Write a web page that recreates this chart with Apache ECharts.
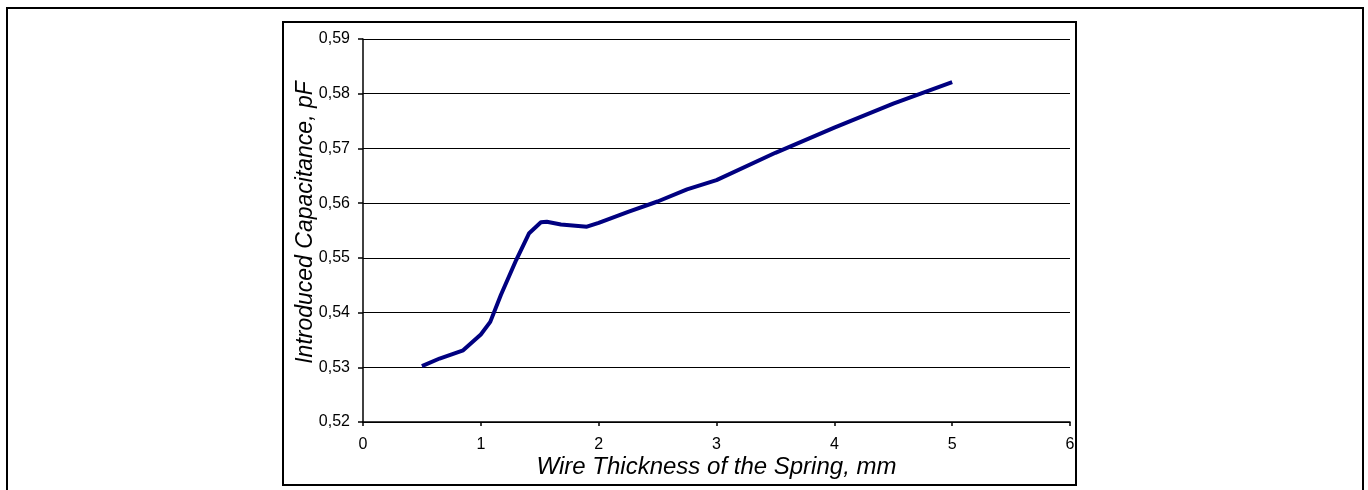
<!DOCTYPE html>
<html>
<head>
<meta charset="utf-8">
<script src="https://cdn.jsdelivr.net/npm/echarts@6/dist/echarts.min.js"></script>
<style>
  html, body { margin: 0; padding: 0; background: #fff; }
  #chart { width: 1368px; height: 490px; }
</style>
</head>
<body>
<div id="chart"></div>
<script>
// Wire thickness of the spring (mm) and the capacitance it introduces (pF)
const thickness = [0.5, 0.65, 0.85, 1.0, 1.08, 1.17, 1.3, 1.41, 1.51, 1.56, 1.68, 1.9, 2.0, 2.25, 2.5, 2.75, 3.0, 3.5, 4.0, 4.5, 5.0];
const capacitance = [0.5302, 0.5316, 0.5331, 0.5360, 0.5383, 0.5432, 0.5496, 0.5545, 0.5565, 0.5566, 0.5561, 0.5557, 0.5564, 0.5584, 0.5603, 0.5625, 0.5642, 0.5692, 0.5738, 0.5782, 0.5821];

const xTicks = [0, 1, 2, 3, 4, 5, 6];
const yTicks = [0.52, 0.53, 0.54, 0.55, 0.56, 0.57, 0.58, 0.59];

const xTitle = 'Wire Thickness of the Spring, mm';
const yTitle = 'Introduced Capacitance, pF';

const FONT = '"Liberation Sans", Arial, sans-serif';

const chart = echarts.init(document.getElementById('chart'), null, { renderer: 'canvas' });

chart.setOption({
  backgroundColor: '#ffffff',
  animation: false,
  graphic: [
    { type: 'rect', z: -1, shape: { x: 7, y: 8, width: 1356, height: 500 },
      style: { fill: 'none', stroke: '#000', lineWidth: 2 } },
    { type: 'rect', z: -1, shape: { x: 283, y: 22, width: 793, height: 463 },
      style: { fill: 'none', stroke: '#000', lineWidth: 2 } }
  ],
  grid: { left: 363, right: 298, top: 39, bottom: 68, containLabel: false },
  xAxis: {
    type: 'value',
    min: xTicks[0],
    max: xTicks[xTicks.length - 1],
    interval: 1,
    name: xTitle,
    nameLocation: 'middle',
    nameGap: 33,
    nameMoveOverlap: false,
    nameTextStyle: { fontFamily: FONT, fontSize: 24, fontStyle: 'italic', color: '#000' },
    axisLine: { show: true, lineStyle: { color: '#000', width: 1.5 } },
    axisTick: { show: true, inside: false, length: 4, lineStyle: { color: '#000', width: 1.5 } },
    axisLabel: { fontFamily: FONT, fontSize: 16, color: '#000', margin: 15 },
    splitLine: { show: false }
  },
  yAxis: {
    type: 'value',
    min: yTicks[0],
    max: yTicks[yTicks.length - 1],
    interval: 0.01,
    name: yTitle,
    nameLocation: 'middle',
    nameGap: 46,
    nameMoveOverlap: false,
    nameRotate: 90,
    nameTextStyle: { fontFamily: FONT, fontSize: 23, fontStyle: 'italic', color: '#000', padding: [0, 0, 0, 16] },
    axisLine: { show: true, lineStyle: { color: '#000', width: 1.5 } },
    axisTick: { show: true, inside: false, length: 5, lineStyle: { color: '#000', width: 1.5 } },
    axisLabel: {
      fontFamily: FONT, fontSize: 16, color: '#000', margin: 13,
      formatter: v => v.toFixed(2).replace('.', ',')
    },
    splitLine: { show: true, lineStyle: { color: '#000', width: 1.2 } }
  },
  series: [{
    type: 'line',
    data: thickness.map((t, i) => [t, capacitance[i]]),
    showSymbol: false,
    smooth: false,
    lineStyle: { color: '#000080', width: 4 },
    itemStyle: { color: '#000080' }
  }]
});
</script>
</body>
</html>
